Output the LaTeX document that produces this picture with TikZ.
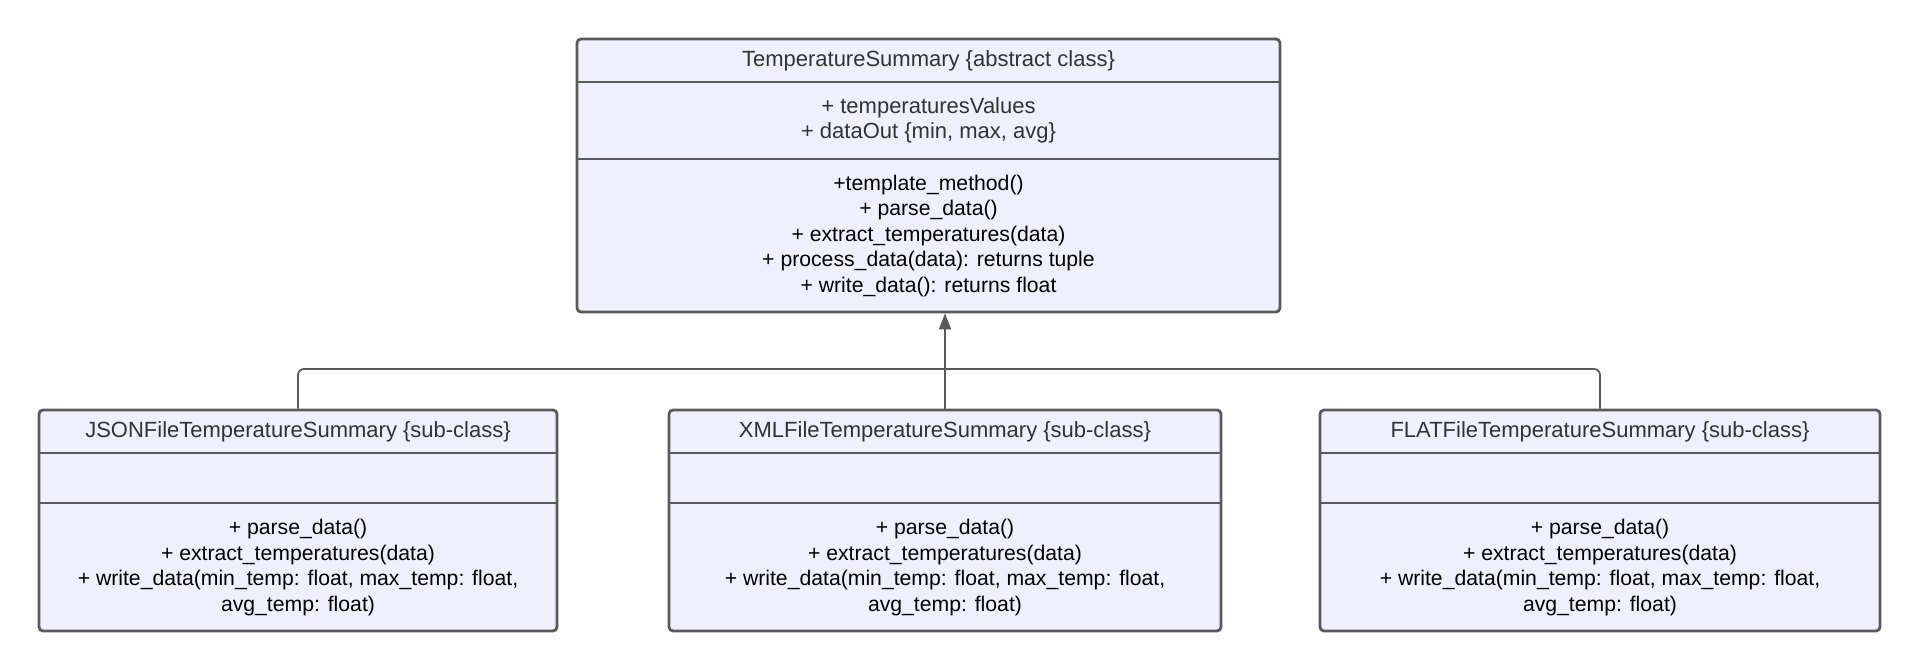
\documentclass[tikz,border=0pt]{standalone}
\usepackage{fontspec}
\setmainfont{Liberation Sans}
\usetikzlibrary{arrows.meta}
\definecolor{classfill}{HTML}{EFEFFD}
\definecolor{classline}{HTML}{5A5A5A}
\definecolor{titletext}{HTML}{333333}
\begin{document}
\begin{tikzpicture}[
    x=1pt, y=-1pt,
    classbox/.style={draw=classline, fill=classfill, line width=2.8pt, rounded corners=4pt, inner sep=0pt},
    sep/.style={draw=classline, line width=2.8pt},
    link/.style={draw=classline, line width=1.8pt, rounded corners=6pt},
    lab/.style={inner sep=0pt, align=center, font=\fontsize{21.2}{25.5}\selectfont},
    title/.style={lab, text=titletext, font=\fontsize{22}{25.5}\selectfont}
]
\useasboundingbox (0,0) rectangle (1920,671);

% class boxes
\node[classbox, minimum width=703pt, minimum height=273pt] (ts) at (928.5,175.5) {};
\node[classbox, minimum width=518pt, minimum height=221pt] (json) at (298,520.5) {};
\node[classbox, minimum width=552pt, minimum height=221pt] (xml) at (945,520.5) {};
\node[classbox, minimum width=560pt, minimum height=221pt] (flat) at (1600,520.5) {};

\draw[sep] (ts.west |- 0,82) -- (ts.east |- 0,82);
\draw[sep] (ts.west |- 0,159) -- (ts.east |- 0,159);
\draw[sep] (json.west |- 0,453) -- (json.east |- 0,453);
\draw[sep] (json.west |- 0,503) -- (json.east |- 0,503);
\draw[sep] (xml.west |- 0,453) -- (xml.east |- 0,453);
\draw[sep] (xml.west |- 0,503) -- (xml.east |- 0,503);
\draw[sep] (flat.west |- 0,453) -- (flat.east |- 0,453);
\draw[sep] (flat.west |- 0,503) -- (flat.east |- 0,503);

% texts
\node[title] (tsName) at (928.5,60.5) {TemperatureSummary \{abstract class\}};
\node[title] (tsAttr) at (928.5,120.5) {+ temperaturesValues\\+ dataOut \{min, max, avg\}};
\node[lab] (tsOps) at (928.5,236) {+template\_method()\\+ parse\_data()\\+ extract\_temperatures(data)\\+ process\_data(data): returns tuple\\+ write\_data(): returns float};

\node[title] (jsonName) at (298,431.5) {JSONFileTemperatureSummary \{sub-class\}};
\node[lab] (jsonOps) at (298,567.5) {+ parse\_data()\\+ extract\_temperatures(data)\\+ write\_data(min\_temp: float, max\_temp: float,\\avg\_temp: float)};

\node[title] (xmlName) at (945,431.5) {XMLFileTemperatureSummary \{sub-class\}};
\node[lab] (xmlOps) at (945,567.5) {+ parse\_data()\\+ extract\_temperatures(data)\\+ write\_data(min\_temp: float, max\_temp: float,\\avg\_temp: float)};

\node[title] (flatName) at (1600,431.5) {FLATFileTemperatureSummary \{sub-class\}};
\node[lab] (flatOps) at (1600,567.5) {+ parse\_data()\\+ extract\_temperatures(data)\\+ write\_data(min\_temp: float, max\_temp: float,\\avg\_temp: float)};

% inheritance
\coordinate (bus) at (945,369);
\draw[link] (json.north) |- (bus);
\draw[link] (flat.north) |- (bus);
\draw[link, -{Triangle[length=16pt, width=12pt]}] (xml.north) -- (xml.north |- ts.south);
\end{tikzpicture}
\end{document}
